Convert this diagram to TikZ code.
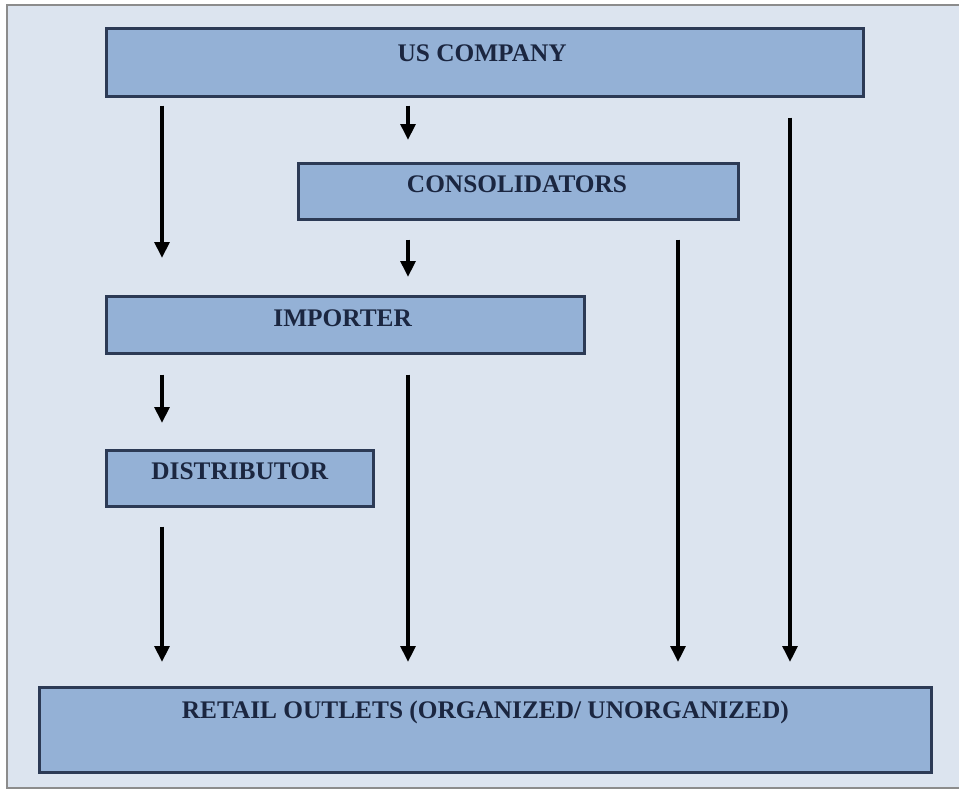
\documentclass[tikz,border=0pt]{standalone}
\usepackage{fontspec}
\setmainfont{Liberation Serif}
\usetikzlibrary{arrows.meta,calc}
\definecolor{bgc}{HTML}{DCE4EF}
\definecolor{boxc}{HTML}{94B1D6}
\definecolor{edgec}{HTML}{2C3A55}
\definecolor{txtc}{HTML}{1B2640}
\definecolor{framec}{HTML}{8C8C8C}
\tikzset{
  flowbox/.style={draw=edgec, line width=2pt, fill=boxc, anchor=north west, inner sep=0pt},
  boxtext/.style={font=\bfseries\fontsize{19}{19}\selectfont, text=txtc},
  flowarrow/.style={line width=2.7pt, draw=black, -{Triangle[width=11pt,length=12pt]}},
}
\begin{document}
\begin{tikzpicture}[x=0.75pt,y=-0.75pt]
\useasboundingbox (0,0) rectangle (959,790);
\fill[white] (0,0) rectangle (959,790);
\draw[framec, line width=2pt, fill=bgc] (7,5) rectangle (962,788);
% boxes
\node[flowbox, minimum width=757*0.75pt, minimum height=68*0.75pt,
  label={[boxtext, yshift=7pt, xshift=-2pt]center:US COMPANY}] (us) at (105,27) {};
\node[flowbox, minimum width=440*0.75pt, minimum height=56*0.75pt,
  label={[boxtext, yshift=5pt, xshift=-1pt]center:CONSOLIDATORS}] (cons) at (297,162) {};
\node[flowbox, minimum width=478*0.75pt, minimum height=57*0.75pt,
  label={[boxtext, yshift=5pt, xshift=-2pt]center:IMPORTER}] (imp) at (105,295) {};
\node[flowbox, minimum width=267*0.75pt, minimum height=56*0.75pt,
  label={[boxtext, yshift=5pt]center:DISTRIBUTOR}] (dist) at (105,449) {};
\node[flowbox, minimum width=892*0.75pt, minimum height=85*0.75pt,
  label={[boxtext, yshift=13pt]center:RETAIL OUTLETS (ORGANIZED/ UNORGANIZED)}] (ret) at (38,686) {};
% connectors
\draw[flowarrow] ($(us.south west)+(57,8)$) -- ($(imp.north west)+(57,-37)$);
\draw[flowarrow] ($(us.south west)+(303,8)$) -- ($(cons.north west)+(111,-22)$);
\draw[flowarrow] ($(cons.south west)+(111,19)$) -- ($(imp.north west)+(303,-18)$);
\draw[flowarrow] ($(imp.south west)+(57,20)$) -- ($(dist.north west)+(57,-26)$);
\draw[flowarrow] ($(dist.south west)+(57,19)$) -- ($(ret.north west)+(124,-24)$);
\draw[flowarrow] ($(imp.south west)+(303,20)$) -- ($(ret.north west)+(370,-24)$);
\draw[flowarrow] ($(cons.south west)+(381,19)$) -- ($(ret.north west)+(640,-24)$);
\draw[flowarrow] ($(us.south west)+(685,20)$) -- ($(ret.north west)+(752,-24)$);
\end{tikzpicture}
\end{document}
